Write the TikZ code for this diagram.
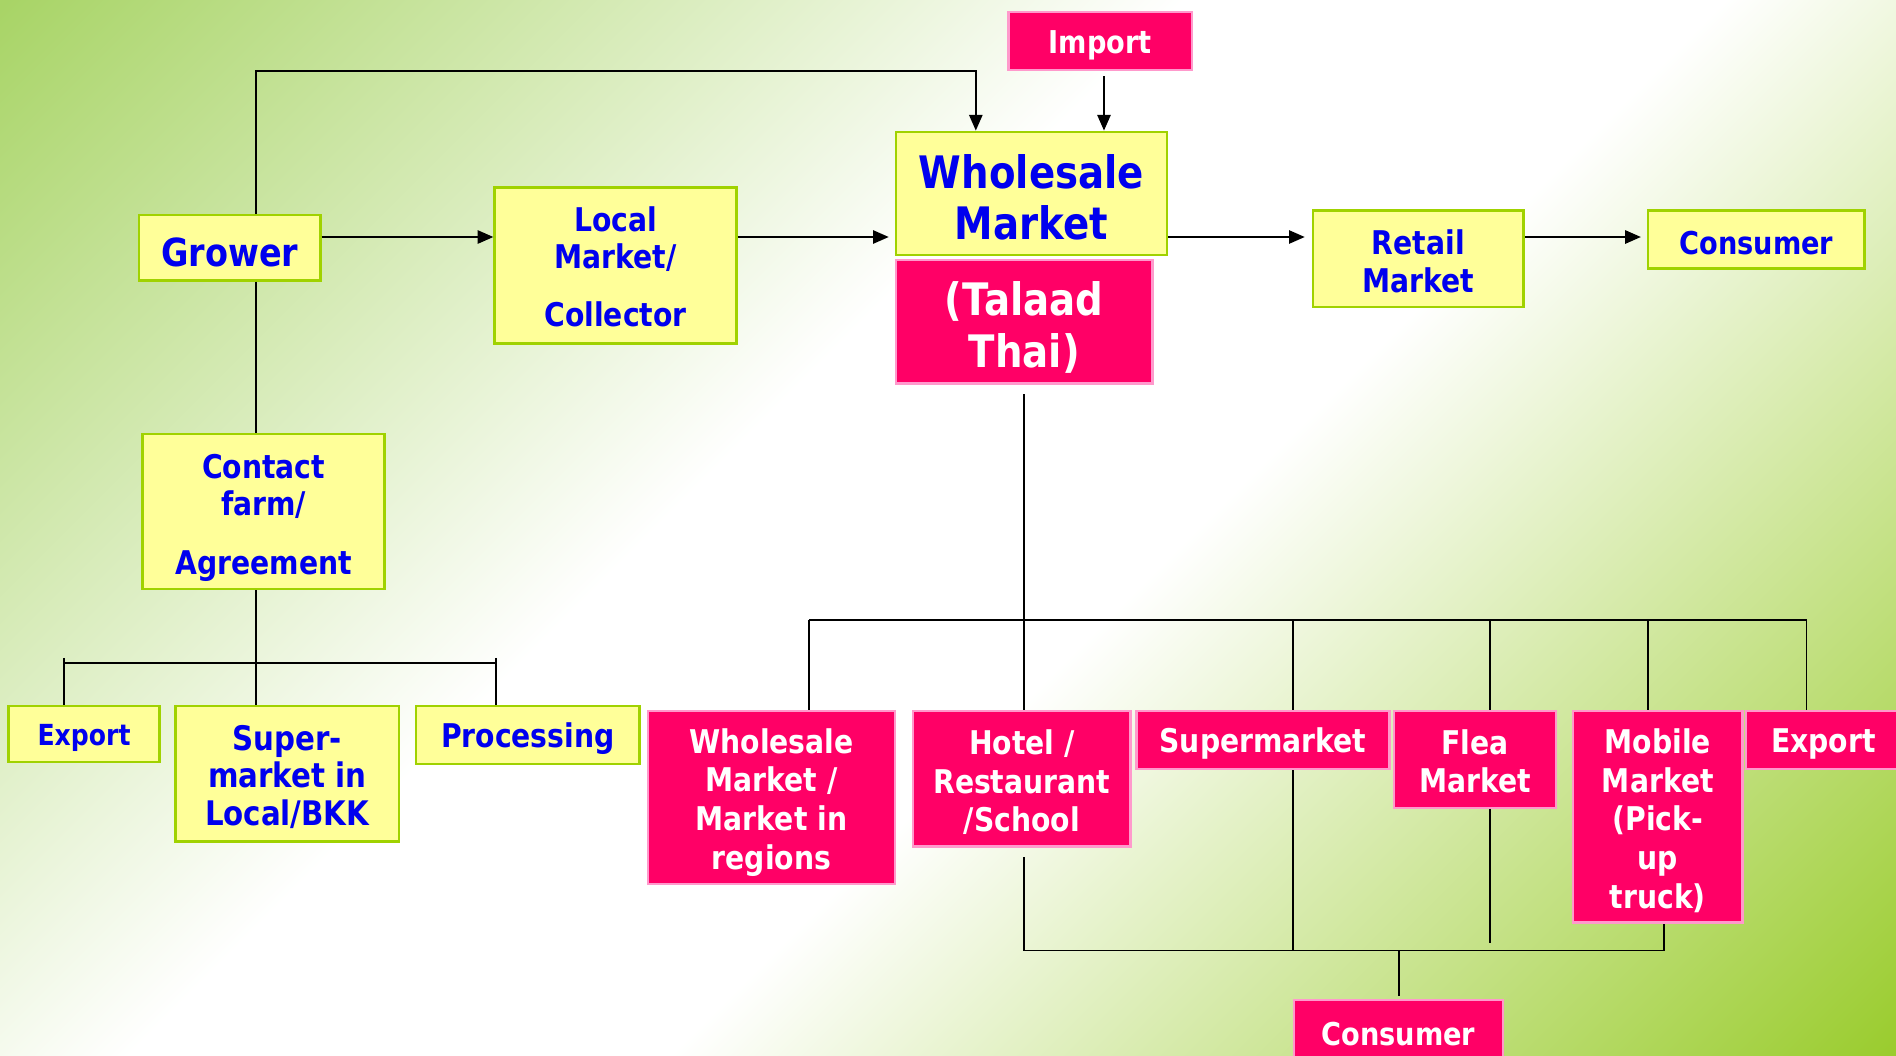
\documentclass[tikz,border=0pt]{standalone}
\usepackage{fontspec}
\setmainfont{DejaVu Sans}[FakeStretch=0.865]
\usetikzlibrary{arrows.meta}
\definecolor{ylfill}{RGB}{255,255,153}
\definecolor{ylline}{RGB}{160,210,0}
\definecolor{pkfill}{RGB}{255,0,102}
\definecolor{pkline}{RGB}{255,153,204}
\definecolor{txtblue}{RGB}{0,0,238}
\definecolor{bgtl}{RGB}{168,212,102}
\definecolor{bgbr}{RGB}{154,204,46}
\pgfdeclareverticalshading{pagebg}{100bp}{color(0bp)=(bgbr); color(14.6bp)=(bgbr); color(44bp)=(white); color(57bp)=(white); color(85.4bp)=(bgtl); color(100bp)=(bgtl)}
\newcommand\fz[2]{\fontsize{#1}{#2}\selectfont\bfseries}
% taller first line: pushes a multi-line label down by half the extra height
\newcommand\tp[1]{\rule{0pt}{\dimexpr 0.76em+#1pt\relax}}
\begin{document}
\begin{tikzpicture}[x=1pt,y=-1pt,
  box/.style={rectangle, inner sep=0pt, align=center, line width=2pt,
    execute at begin node={\rule{0pt}{1em}}},
  sz/.style 2 args={minimum width=#1pt, minimum height=#2pt},
  yb/.style={box, draw=ylline, fill=ylfill, text=txtblue},
  pb/.style={box, draw=pkline, fill=pkfill, text=white},
  link/.style={draw=black, line width=1.5pt},
  arr/.style={link, -{Triangle[length=13pt,width=11pt]}}]
\useasboundingbox (0,0) rectangle (1568,873);
\clip (0,0) rectangle (1568,873);
\shade[shading=pagebg, shading angle=45] (0,0) rectangle (1568,873);

% upper chain
\node[pb, sz={152}{48}, font=\fz{26}{30}] (imp) at (910,34) {Import};
\node[yb, sz={224}{102}, font=\fz{37}{42}] (wm) at (853,160) {\tp{6}Wholesale\\Market};
\node[pb, sz={212}{102}, font=\fz{37}{43}] (tt) at (847,266) {\tp{10}(Talaad\\Thai)};
\node[yb, sz={150}{54}, font=\fz{32}{36}] (grower) at (190,205) {Grower};
\node[yb, sz={200}{129}, font=\fz{27}{31}] (local) at (509,219.5) {\tp{2}Local\\Market/\\[17pt]Collector};
\node[yb, sz={174}{80}, font=\fz{27}{31}] (retail) at (1173,214) {\tp{4}Retail\\Market};
\node[yb, sz={179}{48}, font=\fz{26}{30}] (cons1) at (1452.5,198) {Consumer};

% contract farming branch
\node[yb, sz={200}{128}, font=\fz{27}{31}] (contact) at (218,423) {\tp{10}Contact\\farm/\\[18pt]Agreement};
\node[yb, sz={125}{46}, font=\fz{24}{28}] (ex1) at (69.5,607) {Export};
\node[yb, sz={185}{112}, font=\fz{28}{31}] (smkt) at (237.5,640) {\tp{4}Super-\\market in\\Local/BKK};
\node[yb, sz={185}{48}, font=\fz{27}{31}] (proc) at (436.5,608) {Processing};

% outlets of the wholesale market
\node[pb, sz={204}{143}, font=\fz{27}{32}] (wmr) at (638,659.5) {\tp{8}Wholesale\\Market /\\Market in\\regions};
\node[pb, sz={180}{112}, font=\fz{27}{32}] (hotel) at (845,644) {\tp{6}Hotel /\\Restaurant\\/School};
\node[pb, sz={209}{48}, font=\fz{27}{32}] (supm) at (1044.5,612) {Supermarket};
\node[pb, sz={134}{80}, font=\fz{27}{32}] (flea) at (1220,628) {\tp{3}Flea\\Market};
\node[pb, sz={140}{175}, font=\fz{27}{32}] (mob) at (1371,675.5) {\tp{6}Mobile\\Market\\(Pick-\\up\\truck)};
\node[pb, sz={128}{48}, font=\fz{27}{32}] (ex2) at (1508,612) {Export};
\node[pb, sz={173}{50}, font=\fz{26}{30}] (cons2) at (1156.5,852) {Consumer};

% routing helpers
\coordinate (row) at (0,196);
\coordinate (gx) at (212,0);
\coordinate (topy) at (0,59);
\coordinate (wmin) at ([xshift=-46pt]wm.north);
\coordinate (impin) at ([xshift=60pt]wm.north);
\coordinate (lb) at (53,548);
\coordinate (rb) at (410,548);
\coordinate (tx) at (847,0);
\coordinate (d1) at (669,513);
\coordinate (d2) at (1069,513);
\coordinate (d3) at (1232,513);
\coordinate (d4) at (1363,513);
\coordinate (d5) at (1494,513);
\coordinate (u1) at (847,786);
\coordinate (u2) at (1069,786);
\coordinate (u3) at (1232,780);
\coordinate (u4) at (1376,786);
\coordinate (uc) at (1157,786);

% main flow
\draw[arr] (gx |- grower.north) |- (wmin |- topy) -- (wmin);
\draw[arr, shorten <=4pt] (impin |- imp.south) -- (impin);
\draw[arr] (grower.east |- row) -- (local.west |- row);
\draw[arr, shorten >=5pt] (local.east |- row) -- (wm.west |- row);
\draw[arr, shorten >=6pt] (wm.east |- row) -- (retail.west |- row);
\draw[arr, shorten >=5pt] (retail.east |- row) -- (cons1.west |- row);

% contract farming
\draw[link] (gx |- grower.south) -- (gx |- contact.north);
\draw[link] (gx |- contact.south) -- (gx |- smkt.north);
\draw[link] (lb) -- (rb);
\draw[link] ([yshift=4pt]lb) -- (lb |- ex1.north);
\draw[link] ([yshift=4pt]rb) -- (rb |- proc.north);

% distribution from Talaad Thai
\draw[link, shorten <=8pt] (tx |- tt.south) -- (tx |- hotel.north);
\draw[link] (d1) -- (d5);
\draw[link] (d1) -- (d1 |- wmr.north);
\draw[link] (d2) -- (d2 |- supm.north);
\draw[link] (d3) -- (d3 |- flea.north);
\draw[link] (d4) -- (d4 |- mob.north);
\draw[link] (d5) -- (d5 |- ex2.north);

% to the final consumer
\draw[link, shorten <=8pt] (u1 |- hotel.south) -- (u1) -- (u4) -- (u4 |- mob.south);
\draw[link] (u2 |- supm.south) -- (u2);
\draw[link] (u3 |- flea.south) -- (u3);
\draw[link, shorten >=2pt] (uc) -- (uc |- cons2.north);
\end{tikzpicture}
\end{document}
